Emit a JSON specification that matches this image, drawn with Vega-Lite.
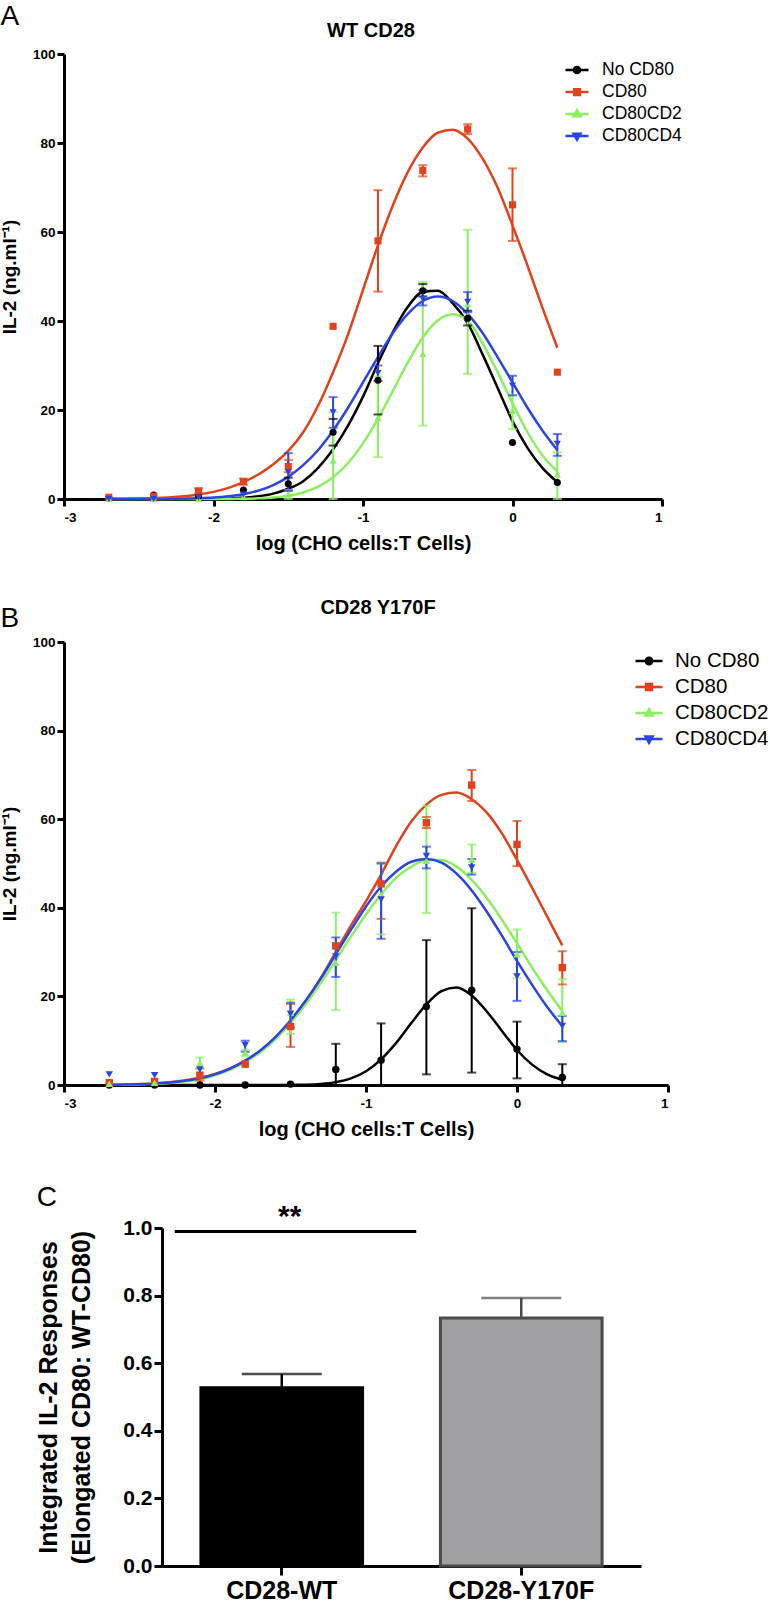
{
"$schema": "https://vega.github.io/schema/vega-lite/v6.json",
"padding": {"left": 0, "top": 3, "right": 0, "bottom": 0},
"background": "white",
"spacing": 44,
"resolve": {"scale": {"color": "independent", "fill": "independent", "stroke": "independent"}, "legend": {"color": "independent", "fill": "independent", "stroke": "independent"}},
"config": {
  "view": {"stroke": null},
  "font": "Liberation Sans",
  "axis": {"grid": false, "domainColor": "#000000", "domainWidth": 3, "tickColor": "#000000", "tickWidth": 3, "tickSize": 7, "labelColor": "#000000", "labelFont": "Liberation Sans", "labelFontWeight": "bold", "titleColor": "#000000", "titleFont": "Liberation Sans", "titleFontWeight": "bold"},
  "title": {"font": "Liberation Sans", "color": "#000000"}
},
"datasets": {
  "curves": [
    {"p":"A","x":-2.7,"No CD80":0,"CD80":0.05,"CD80CD2":0,"CD80CD4":0},
    {"p":"A","x":-2.6,"No CD80":0,"CD80":0.08,"CD80CD2":0,"CD80CD4":0},
    {"p":"A","x":-2.5,"No CD80":0,"CD80":0.13,"CD80CD2":0,"CD80CD4":0.01},
    {"p":"A","x":-2.4,"No CD80":0,"CD80":0.2,"CD80CD2":0,"CD80CD4":0.02},
    {"p":"A","x":-2.3,"No CD80":0,"CD80":0.35,"CD80CD2":0,"CD80CD4":0.035},
    {"p":"A","x":-2.2,"No CD80":0,"CD80":0.6,"CD80CD2":0,"CD80CD4":0.08},
    {"p":"A","x":-2.1,"No CD80":0.01,"CD80":1.0,"CD80CD2":0,"CD80CD4":0.16},
    {"p":"A","x":-2.0,"No CD80":0.03,"CD80":1.6,"CD80CD2":0.01,"CD80CD4":0.31},
    {"p":"A","x":-1.9,"No CD80":0.08,"CD80":2.5,"CD80CD2":0.02,"CD80CD4":0.6},
    {"p":"A","x":-1.8,"No CD80":0.3,"CD80":3.8,"CD80CD2":0.06,"CD80CD4":1.08},
    {"p":"A","x":-1.7,"No CD80":0.6,"CD80":5.5,"CD80CD2":0.15,"CD80CD4":1.88},
    {"p":"A","x":-1.6,"No CD80":1.2,"CD80":7.8,"CD80CD2":0.34,"CD80CD4":3.13},
    {"p":"A","x":-1.5,"No CD80":2.3,"CD80":10.8,"CD80CD2":0.73,"CD80CD4":4.98},
    {"p":"A","x":-1.4,"No CD80":4.0,"CD80":15,"CD80CD2":1.47,"CD80CD4":7.6},
    {"p":"A","x":-1.3,"No CD80":7.0,"CD80":21,"CD80CD2":2.78,"CD80CD4":11.0},
    {"p":"A","x":-1.2,"No CD80":11.2,"CD80":28.5,"CD80CD2":4.9,"CD80CD4":15.4},
    {"p":"A","x":-1.1,"No CD80":16.5,"CD80":37,"CD80CD2":8.1,"CD80CD4":20.5},
    {"p":"A","x":-1.0,"No CD80":23,"CD80":47,"CD80CD2":12.5,"CD80CD4":26.2},
    {"p":"A","x":-0.9,"No CD80":30.5,"CD80":57,"CD80CD2":18.0,"CD80CD4":31.9},
    {"p":"A","x":-0.8,"No CD80":37.5,"CD80":66,"CD80CD2":24.3,"CD80CD4":37.3},
    {"p":"A","x":-0.7,"No CD80":43.2,"CD80":73.5,"CD80CD2":30.7,"CD80CD4":41.6},
    {"p":"A","x":-0.6,"No CD80":46.5,"CD80":79,"CD80CD2":36.3,"CD80CD4":44.5},
    {"p":"A","x":-0.5,"No CD80":46.8,"CD80":82.3,"CD80CD2":40.1,"CD80CD4":45.5},
    {"p":"A","x":-0.4,"No CD80":44,"CD80":83,"CD80CD2":41.5,"CD80CD4":44.5},
    {"p":"A","x":-0.3,"No CD80":39.5,"CD80":81,"CD80CD2":40.1,"CD80CD4":41.6},
    {"p":"A","x":-0.2,"No CD80":32.5,"CD80":76.5,"CD80CD2":35,"CD80CD4":37.3},
    {"p":"A","x":-0.1,"No CD80":25,"CD80":70,"CD80CD2":28.5,"CD80CD4":31.9},
    {"p":"A","x":0.0,"No CD80":17.5,"CD80":61.5,"CD80CD2":21.5,"CD80CD4":26.2},
    {"p":"A","x":0.1,"No CD80":11.5,"CD80":52.5,"CD80CD2":15,"CD80CD4":20.5},
    {"p":"A","x":0.2,"No CD80":7,"CD80":43,"CD80CD2":9.8,"CD80CD4":15.4},
    {"p":"A","x":0.3,"No CD80":3.8,"CD80":34,"CD80CD2":6.2,"CD80CD4":11.0},
    {"p":"B","x":-2.7,"No CD80":0,"CD80":0.07,"CD80CD2":0.04,"CD80CD4":0.05},
    {"p":"B","x":-2.6,"No CD80":0,"CD80":0.13,"CD80CD2":0.08,"CD80CD4":0.09},
    {"p":"B","x":-2.5,"No CD80":0,"CD80":0.22,"CD80CD2":0.14,"CD80CD4":0.17},
    {"p":"B","x":-2.4,"No CD80":0,"CD80":0.38,"CD80CD2":0.26,"CD80CD4":0.3},
    {"p":"B","x":-2.3,"No CD80":0,"CD80":0.63,"CD80CD2":0.45,"CD80CD4":0.55},
    {"p":"B","x":-2.2,"No CD80":0,"CD80":1.02,"CD80CD2":0.76,"CD80CD4":0.95},
    {"p":"B","x":-2.1,"No CD80":0,"CD80":1.62,"CD80CD2":1.24,"CD80CD4":1.5},
    {"p":"B","x":-2.0,"No CD80":0,"CD80":2.49,"CD80CD2":2.2,"CD80CD4":2.4},
    {"p":"B","x":-1.9,"No CD80":0,"CD80":3.73,"CD80CD2":3.4,"CD80CD4":3.7},
    {"p":"B","x":-1.8,"No CD80":0,"CD80":5.44,"CD80CD2":5.2,"CD80CD4":5.5},
    {"p":"B","x":-1.7,"No CD80":0,"CD80":7.72,"CD80CD2":7.4,"CD80CD4":7.8},
    {"p":"B","x":-1.6,"No CD80":0.01,"CD80":10.7,"CD80CD2":10.3,"CD80CD4":10.8},
    {"p":"B","x":-1.5,"No CD80":0.03,"CD80":14.4,"CD80CD2":14,"CD80CD4":14.6},
    {"p":"B","x":-1.4,"No CD80":0.08,"CD80":18.9,"CD80CD2":18.2,"CD80CD4":19},
    {"p":"B","x":-1.3,"No CD80":0.25,"CD80":24.1,"CD80CD2":23,"CD80CD4":24},
    {"p":"B","x":-1.2,"No CD80":0.65,"CD80":30.0,"CD80CD2":28.2,"CD80CD4":29.5},
    {"p":"B","x":-1.1,"No CD80":1.5,"CD80":36,"CD80CD2":33.5,"CD80CD4":35},
    {"p":"B","x":-1.0,"No CD80":3.1,"CD80":41.5,"CD80CD2":38.5,"CD80CD4":40.3},
    {"p":"B","x":-0.9,"No CD80":5.8,"CD80":47.5,"CD80CD2":43,"CD80CD4":44.8},
    {"p":"B","x":-0.8,"No CD80":9.5,"CD80":54,"CD80CD2":46.8,"CD80CD4":48.2},
    {"p":"B","x":-0.7,"No CD80":14.0,"CD80":59.5,"CD80CD2":49.3,"CD80CD4":50.4},
    {"p":"B","x":-0.6,"No CD80":18.2,"CD80":63.3,"CD80CD2":50.8,"CD80CD4":51},
    {"p":"B","x":-0.5,"No CD80":21.2,"CD80":65.5,"CD80CD2":50.8,"CD80CD4":50.2},
    {"p":"B","x":-0.4,"No CD80":22,"CD80":66,"CD80CD2":49.3,"CD80CD4":47.7},
    {"p":"B","x":-0.3,"No CD80":20.2,"CD80":64.5,"CD80CD2":46.3,"CD80CD4":43.9},
    {"p":"B","x":-0.2,"No CD80":16.6,"CD80":61.5,"CD80CD2":42.2,"CD80CD4":39.1},
    {"p":"B","x":-0.1,"No CD80":12.2,"CD80":56.8,"CD80CD2":37.3,"CD80CD4":33.7},
    {"p":"B","x":0.0,"No CD80":7.9,"CD80":50.8,"CD80CD2":32.0,"CD80CD4":28.0},
    {"p":"B","x":0.1,"No CD80":4.6,"CD80":44.5,"CD80CD2":26.5,"CD80CD4":22.6},
    {"p":"B","x":0.2,"No CD80":2.4,"CD80":38,"CD80CD2":21.4,"CD80CD4":17.6},
    {"p":"B","x":0.3,"No CD80":1.2,"CD80":31.5,"CD80CD2":16.7,"CD80CD4":13.3}
  ],
  "pts": [
    {"p":"A","s":"No CD80","x":-2.7,"y":0.2},
    {"p":"A","s":"No CD80","x":-2.4,"y":0.9},
    {"p":"A","s":"No CD80","x":-2.1,"y":0.6},
    {"p":"A","s":"No CD80","x":-1.8,"y":2.0},
    {"p":"A","s":"No CD80","x":-1.5,"y":3.4,"lo":2,"hi":4.8},
    {"p":"A","s":"No CD80","x":-1.2,"y":15.0,"lo":12,"hi":18},
    {"p":"A","s":"No CD80","x":-0.9,"y":26.7,"lo":19,"hi":34.4},
    {"p":"A","s":"No CD80","x":-0.6,"y":46.8,"lo":45.5,"hi":48.3},
    {"p":"A","s":"No CD80","x":-0.3,"y":40.6,"lo":39,"hi":42.3},
    {"p":"A","s":"No CD80","x":0,"y":12.7},
    {"p":"A","s":"No CD80","x":0.3,"y":3.7},
    {"p":"A","s":"CD80","x":-2.7,"y":0.4},
    {"p":"A","s":"CD80","x":-2.4,"y":0.6},
    {"p":"A","s":"CD80","x":-2.1,"y":1.8,"lo":1.2,"hi":2.4},
    {"p":"A","s":"CD80","x":-1.8,"y":3.9,"lo":3.2,"hi":4.6},
    {"p":"A","s":"CD80","x":-1.5,"y":7.3,"lo":6,"hi":8.8},
    {"p":"A","s":"CD80","x":-1.2,"y":38.8},
    {"p":"A","s":"CD80","x":-0.9,"y":58.0,"lo":46.6,"hi":69.4},
    {"p":"A","s":"CD80","x":-0.6,"y":73.8,"lo":72.5,"hi":75},
    {"p":"A","s":"CD80","x":-0.3,"y":83.1,"lo":82,"hi":84.2},
    {"p":"A","s":"CD80","x":0,"y":66.1,"lo":58,"hi":74.3},
    {"p":"A","s":"CD80","x":0.3,"y":28.5},
    {"p":"A","s":"CD80CD2","x":-2.7,"y":0},
    {"p":"A","s":"CD80CD2","x":-2.4,"y":0},
    {"p":"A","s":"CD80CD2","x":-2.1,"y":0},
    {"p":"A","s":"CD80CD2","x":-1.8,"y":0.4},
    {"p":"A","s":"CD80CD2","x":-1.5,"y":1.0,"lo":0,"hi":2},
    {"p":"A","s":"CD80CD2","x":-1.2,"y":8.6,"lo":0,"hi":19.5},
    {"p":"A","s":"CD80CD2","x":-0.9,"y":18.2,"lo":9.4,"hi":27.5},
    {"p":"A","s":"CD80CD2","x":-0.6,"y":32.6,"lo":16.5,"hi":48.8},
    {"p":"A","s":"CD80CD2","x":-0.3,"y":43.8,"lo":28.1,"hi":60.5},
    {"p":"A","s":"CD80CD2","x":0,"y":19.8,"lo":15.7,"hi":23.4},
    {"p":"A","s":"CD80CD2","x":0.3,"y":5.5,"lo":0,"hi":10.5},
    {"p":"A","s":"CD80CD4","x":-2.7,"y":0},
    {"p":"A","s":"CD80CD4","x":-2.4,"y":0},
    {"p":"A","s":"CD80CD4","x":-2.1,"y":0.3},
    {"p":"A","s":"CD80CD4","x":-1.8,"y":1.0},
    {"p":"A","s":"CD80CD4","x":-1.5,"y":6,"lo":1.8,"hi":10.3},
    {"p":"A","s":"CD80CD4","x":-1.2,"y":19.5,"lo":16,"hi":22.9},
    {"p":"A","s":"CD80CD4","x":-0.9,"y":28.3,"lo":26.5,"hi":30},
    {"p":"A","s":"CD80CD4","x":-0.6,"y":45,"lo":43.5,"hi":47},
    {"p":"A","s":"CD80CD4","x":-0.3,"y":44.3,"lo":42,"hi":46.5},
    {"p":"A","s":"CD80CD4","x":0,"y":25.5,"lo":23.3,"hi":27.7},
    {"p":"A","s":"CD80CD4","x":0.3,"y":12.4,"lo":9.7,"hi":14.6},
    {"p":"B","s":"No CD80","x":-2.7,"y":0},
    {"p":"B","s":"No CD80","x":-2.4,"y":0},
    {"p":"B","s":"No CD80","x":-2.1,"y":0},
    {"p":"B","s":"No CD80","x":-1.8,"y":0},
    {"p":"B","s":"No CD80","x":-1.5,"y":0.2},
    {"p":"B","s":"No CD80","x":-1.2,"y":3.5,"lo":0,"hi":9.3},
    {"p":"B","s":"No CD80","x":-0.9,"y":5.6,"lo":0,"hi":13.9},
    {"p":"B","s":"No CD80","x":-0.6,"y":17.7,"lo":2.4,"hi":32.7},
    {"p":"B","s":"No CD80","x":-0.3,"y":21.4,"lo":2.8,"hi":39.9},
    {"p":"B","s":"No CD80","x":0,"y":8.1,"lo":1.5,"hi":14.3},
    {"p":"B","s":"No CD80","x":0.3,"y":1.7,"lo":0,"hi":4.7},
    {"p":"B","s":"CD80","x":-2.7,"y":0.5},
    {"p":"B","s":"CD80","x":-2.4,"y":0.8},
    {"p":"B","s":"CD80","x":-2.1,"y":2.2,"lo":1.0,"hi":3.7},
    {"p":"B","s":"CD80","x":-1.8,"y":4.7},
    {"p":"B","s":"CD80","x":-1.5,"y":13.2,"lo":8.6,"hi":18.3},
    {"p":"B","s":"CD80","x":-1.2,"y":31.4},
    {"p":"B","s":"CD80","x":-0.9,"y":45.4,"lo":37.5,"hi":50.2},
    {"p":"B","s":"CD80","x":-0.6,"y":59.2,"lo":58,"hi":60.5},
    {"p":"B","s":"CD80","x":-0.3,"y":67.7,"lo":64.1,"hi":71.1},
    {"p":"B","s":"CD80","x":0,"y":54.3,"lo":49.4,"hi":59.6},
    {"p":"B","s":"CD80","x":0.3,"y":26.5,"lo":22.7,"hi":30.2},
    {"p":"B","s":"CD80CD2","x":-2.7,"y":0.3},
    {"p":"B","s":"CD80CD2","x":-2.4,"y":0.5},
    {"p":"B","s":"CD80CD2","x":-2.1,"y":5.0,"lo":3.8,"hi":6.2},
    {"p":"B","s":"CD80CD2","x":-1.8,"y":7.3,"lo":6.5,"hi":8},
    {"p":"B","s":"CD80CD2","x":-1.5,"y":16.3,"lo":11.5,"hi":19.3},
    {"p":"B","s":"CD80CD2","x":-1.2,"y":27.6,"lo":16.9,"hi":38.9},
    {"p":"B","s":"CD80CD2","x":-0.9,"y":43,"lo":34,"hi":50},
    {"p":"B","s":"CD80CD2","x":-0.6,"y":50.6,"lo":38.8,"hi":63},
    {"p":"B","s":"CD80CD2","x":-0.3,"y":50.9,"lo":47.9,"hi":54.3},
    {"p":"B","s":"CD80CD2","x":0,"y":29.5,"lo":24.1,"hi":35.1},
    {"p":"B","s":"CD80CD2","x":0.3,"y":16.3,"lo":9.7,"hi":23.9},
    {"p":"B","s":"CD80CD4","x":-2.7,"y":2.4},
    {"p":"B","s":"CD80CD4","x":-2.4,"y":2.2},
    {"p":"B","s":"CD80CD4","x":-2.1,"y":3.5},
    {"p":"B","s":"CD80CD4","x":-1.8,"y":9.0,"lo":7.5,"hi":10},
    {"p":"B","s":"CD80CD4","x":-1.5,"y":16.1,"lo":13,"hi":18.6},
    {"p":"B","s":"CD80CD4","x":-1.2,"y":29,"lo":24.4,"hi":33.3},
    {"p":"B","s":"CD80CD4","x":-0.9,"y":41.9,"lo":33,"hi":50},
    {"p":"B","s":"CD80CD4","x":-0.6,"y":51.7,"lo":48.9,"hi":53.8},
    {"p":"B","s":"CD80CD4","x":-0.3,"y":49.1,"lo":47.5,"hi":51},
    {"p":"B","s":"CD80CD4","x":0,"y":24.5,"lo":19,"hi":30},
    {"p":"B","s":"CD80CD4","x":0.3,"y":13.3,"lo":9.9,"hi":15.6}
  ],
  "bars": [
    {"group":"CD28-WT","value":0.527,"hi":0.568},
    {"group":"CD28-Y170F","value":0.734,"hi":0.793}
  ],
  "sig": [
    {"from":"CD28-WT","to":"CD28-Y170F","y":0.99,"label":"**"}
  ]
},
"vconcat": [
  {
    "title": {"text": "A", "anchor": "start", "frame": "bounds", "fontSize": 28, "fontWeight": "normal", "offset": -10},
    "resolve": {"scale": {"color": "independent"}, "legend": {"color": "independent"}},
    "vconcat": [
      {
        "width": 598, "height": 445,
        "title": {"text": "WT CD28", "fontSize": 20, "fontWeight": "bold", "anchor": "middle", "frame": "group", "offset": 6, "dx": 8},
        "encoding": {
          "x": {"field": "x", "type": "quantitative", "scale": {"domain": [-3, 1], "nice": false, "zero": false}, "axis": {"values": [-3, -2, -1, 0, 1], "labelExpr": "'' + datum.value", "labelFontSize": 13.5, "labelPadding": 4, "title": "log (CHO cells:T Cells)", "titleFontSize": 20, "titlePadding": 10}},
          "y": {"field": "y", "type": "quantitative", "scale": {"domain": [0, 100], "nice": false}, "axis": {"values": [0, 20, 40, 60, 80, 100], "labelFontSize": 13.5, "labelPadding": 2, "title": "IL-2 (ng.ml⁻¹)", "titleFontSize": 19, "titlePadding": 13}}
        },
        "layer": [
          {
            "data": {"name": "curves"},
            "transform": [{"filter": "datum.p === 'A'"}, {"fold": ["No CD80", "CD80", "CD80CD2", "CD80CD4"], "as": ["s", "y"]}],
            "mark": {"type": "line", "strokeWidth": 2.5, "interpolate": "monotone"},
            "encoding": {
              "color": {"field": "s", "type": "nominal", "scale": {"domain": ["No CD80", "CD80", "CD80CD2", "CD80CD4"], "range": ["#000000", "#E2411C", "#8BF060", "#2B44E4"]},
                "legend": {"orient": "none", "legendX": 500, "legendY": 3, "title": null, "padding": 0, "rowPadding": 0, "labelFont": "Liberation Sans", "labelFontSize": 17.5, "labelColor": "#000000", "labelOffset": 12, "symbolSize": 529, "symbolStrokeWidth": 2.5,
                  "encode": {"symbols": {"update": {
                    "shape": {"signal": "datum.value === 'No CD80' ? 'M-1,0H1M-0.27,0A0.27,0.27,0,1,0,0.27,0A0.27,0.27,0,1,0,-0.27,0Z' : datum.value === 'CD80' ? 'M-1,0H1M-0.25,-0.25H0.25V0.25H-0.25Z' : datum.value === 'CD80CD2' ? 'M-1,0H1M0,-0.32L0.3,0.2H-0.3Z' : 'M-1,0H1M0,0.32L0.3,-0.2H-0.3Z'"},
                    "fill": {"signal": "datum.value === 'No CD80' ? '#000000' : datum.value === 'CD80' ? '#E2411C' : datum.value === 'CD80CD2' ? '#8BF060' : '#2B44E4'"},
                    "stroke": {"signal": "datum.value === 'No CD80' ? '#000000' : datum.value === 'CD80' ? '#E2411C' : datum.value === 'CD80CD2' ? '#8BF060' : '#2B44E4'"},
                    "strokeWidth": {"value": 2.5},
                    "opacity": {"value": 1}
                  }}}}
              }
            }
          },
          {
            "data": {"name": "pts"},
            "transform": [{"filter": "datum.p === 'A' && datum.lo != null"}],
            "mark": {"type": "rule", "strokeWidth": 2},
            "encoding": {
              "y": {"field": "lo", "type": "quantitative", "scale": {"domain": [0, 100], "nice": false}, "axis": {"values": [0, 20, 40, 60, 80, 100], "labelFontSize": 13.5, "labelPadding": 2, "title": "IL-2 (ng.ml⁻¹)", "titleFontSize": 19, "titlePadding": 13}},
              "y2": {"field": "hi"},
              "color": {"field": "s", "type": "nominal"}
            }
          },
          {
            "data": {"name": "pts"},
            "transform": [{"filter": "datum.p === 'A' && datum.lo != null"}, {"fold": ["lo", "hi"], "as": ["k", "y"]}],
            "mark": {"type": "tick", "orient": "horizontal", "size": 9, "thickness": 2},
            "encoding": {"color": {"field": "s", "type": "nominal"}}
          },
          {"data": {"name": "pts"}, "transform": [{"filter": "datum.p === 'A' && datum.s === 'No CD80'"}], "mark": {"type": "point", "shape": "circle", "filled": true, "opacity": 1, "size": 50, "color": "#000000"}},
          {"data": {"name": "pts"}, "transform": [{"filter": "datum.p === 'A' && datum.s === 'CD80'"}], "mark": {"type": "point", "shape": "square", "filled": true, "opacity": 1, "size": 50, "color": "#E2411C"}},
          {"data": {"name": "pts"}, "transform": [{"filter": "datum.p === 'A' && datum.s === 'CD80CD2'"}], "mark": {"type": "point", "shape": "triangle-up", "filled": true, "opacity": 1, "size": 50, "color": "#8BF060"}},
          {"data": {"name": "pts"}, "transform": [{"filter": "datum.p === 'A' && datum.s === 'CD80CD4'"}], "mark": {"type": "point", "shape": "triangle-down", "filled": true, "opacity": 1, "size": 50, "color": "#2B44E4"}}
        ]
      }
    ]
  },
  {
    "title": {"text": "B", "anchor": "start", "frame": "bounds", "fontSize": 28, "fontWeight": "normal", "offset": -35},
    "resolve": {"scale": {"color": "independent"}, "legend": {"color": "independent"}},
    "vconcat": [
      {
        "width": 604, "height": 443,
        "title": {"text": "CD28 Y170F", "fontSize": 20, "fontWeight": "bold", "anchor": "middle", "frame": "group", "offset": 17, "dx": 12},
        "encoding": {
          "x": {"field": "x", "type": "quantitative", "scale": {"domain": [-3, 1], "nice": false, "zero": false}, "axis": {"values": [-3, -2, -1, 0, 1], "labelExpr": "'' + datum.value", "labelFontSize": 13.5, "labelPadding": 4, "title": "log (CHO cells:T Cells)", "titleFontSize": 20, "titlePadding": 10}},
          "y": {"field": "y", "type": "quantitative", "scale": {"domain": [0, 100], "nice": false}, "axis": {"values": [0, 20, 40, 60, 80, 100], "labelFontSize": 13.5, "labelPadding": 2, "title": "IL-2 (ng.ml⁻¹)", "titleFontSize": 19, "titlePadding": 13}}
        },
        "layer": [
          {
            "data": {"name": "curves"},
            "transform": [{"filter": "datum.p === 'B'"}, {"fold": ["No CD80", "CD80", "CD80CD2", "CD80CD4"], "as": ["s", "y"]}],
            "mark": {"type": "line", "strokeWidth": 2.5, "interpolate": "monotone"},
            "encoding": {
              "color": {"field": "s", "type": "nominal", "scale": {"domain": ["No CD80", "CD80", "CD80CD2", "CD80CD4"], "range": ["#000000", "#E2411C", "#8BF060", "#2B44E4"]},
                "legend": {"orient": "none", "legendX": 570, "legendY": 4, "title": null, "padding": 0, "rowPadding": 0, "labelFont": "Liberation Sans", "labelFontSize": 20.5, "labelColor": "#000000", "labelOffset": 11, "symbolSize": 729, "symbolStrokeWidth": 2.5,
                  "encode": {"symbols": {"update": {
                    "shape": {"signal": "datum.value === 'No CD80' ? 'M-1,0H1M-0.24,0A0.24,0.24,0,1,0,0.24,0A0.24,0.24,0,1,0,-0.24,0Z' : datum.value === 'CD80' ? 'M-1,0H1M-0.22,-0.22H0.22V0.22H-0.22Z' : datum.value === 'CD80CD2' ? 'M-1,0H1M0,-0.28L0.26,0.18H-0.26Z' : 'M-1,0H1M0,0.28L0.26,-0.18H-0.26Z'"},
                    "fill": {"signal": "datum.value === 'No CD80' ? '#000000' : datum.value === 'CD80' ? '#E2411C' : datum.value === 'CD80CD2' ? '#8BF060' : '#2B44E4'"},
                    "stroke": {"signal": "datum.value === 'No CD80' ? '#000000' : datum.value === 'CD80' ? '#E2411C' : datum.value === 'CD80CD2' ? '#8BF060' : '#2B44E4'"},
                    "strokeWidth": {"value": 2.5},
                    "opacity": {"value": 1}
                  }}}}
              }
            }
          },
          {
            "data": {"name": "pts"},
            "transform": [{"filter": "datum.p === 'B' && datum.lo != null"}],
            "mark": {"type": "rule", "strokeWidth": 2},
            "encoding": {
              "y": {"field": "lo", "type": "quantitative", "scale": {"domain": [0, 100], "nice": false}, "axis": {"values": [0, 20, 40, 60, 80, 100], "labelFontSize": 13.5, "labelPadding": 2, "title": "IL-2 (ng.ml⁻¹)", "titleFontSize": 19, "titlePadding": 13}},
              "y2": {"field": "hi"},
              "color": {"field": "s", "type": "nominal"}
            }
          },
          {
            "data": {"name": "pts"},
            "transform": [{"filter": "datum.p === 'B' && datum.lo != null"}, {"fold": ["lo", "hi"], "as": ["k", "y"]}],
            "mark": {"type": "tick", "orient": "horizontal", "size": 9, "thickness": 2},
            "encoding": {"color": {"field": "s", "type": "nominal"}}
          },
          {"data": {"name": "pts"}, "transform": [{"filter": "datum.p === 'B' && datum.s === 'No CD80'"}], "mark": {"type": "point", "shape": "circle", "filled": true, "opacity": 1, "size": 55, "color": "#000000"}},
          {"data": {"name": "pts"}, "transform": [{"filter": "datum.p === 'B' && datum.s === 'CD80'"}], "mark": {"type": "point", "shape": "square", "filled": true, "opacity": 1, "size": 55, "color": "#E2411C"}},
          {"data": {"name": "pts"}, "transform": [{"filter": "datum.p === 'B' && datum.s === 'CD80CD2'"}], "mark": {"type": "point", "shape": "triangle-up", "filled": true, "opacity": 1, "size": 55, "color": "#8BF060"}},
          {"data": {"name": "pts"}, "transform": [{"filter": "datum.p === 'B' && datum.s === 'CD80CD4'"}], "mark": {"type": "point", "shape": "triangle-down", "filled": true, "opacity": 1, "size": 55, "color": "#2B44E4"}}
        ]
      }
    ]
  },
  {
    "title": {"text": "C", "anchor": "start", "frame": "bounds", "fontSize": 28, "fontWeight": "normal", "offset": -10},
    "resolve": {"scale": {"color": "independent", "fill": "independent", "stroke": "independent"}},
    "vconcat": [
      {
        "width": 577, "height": 338,
        "layer": [
          {
            "data": {"name": "bars"},
            "mark": {"type": "bar", "strokeWidth": 3},
            "encoding": {
              "x": {"field": "group", "type": "nominal", "sort": null, "scale": {"domain": ["CD28-WT", "CD28-Y170F"], "range": [98, 577], "paddingInner": 0.325, "paddingOuter": 0.1625}, "axis": {"title": null, "labelAngle": 0, "labelFontSize": 25, "labelPadding": 3, "tickSize": 9}},
              "y": {"field": "value", "type": "quantitative", "scale": {"domain": [0, 1], "nice": false}, "axis": {"offset": -98, "values": [0, 0.2, 0.4, 0.6, 0.8, 1], "format": ".1f", "labelFontSize": 21, "labelPadding": 2, "tickSize": 8, "title": ["Integrated IL-2 Responses", "(Elongated CD80: WT-CD80)"], "titleFontSize": 25, "titleLineHeight": 33, "titlePadding": 28}},
              "fill": {"field": "group", "type": "nominal", "scale": {"domain": ["CD28-WT", "CD28-Y170F"], "range": ["#000000", "#A0A0A2"]}, "legend": null},
              "stroke": {"field": "group", "type": "nominal", "scale": {"domain": ["CD28-WT", "CD28-Y170F"], "range": ["#000000", "#4A4A4A"]}, "legend": null}
            }
          },
          {
            "data": {"name": "bars"},
            "mark": {"type": "rule", "strokeWidth": 2.5},
            "encoding": {
              "x": {"field": "group", "type": "nominal", "sort": null},
              "y": {"field": "value", "type": "quantitative"},
              "y2": {"field": "hi"},
              "stroke": {"field": "group", "type": "nominal", "legend": null}
            }
          },
          {
            "data": {"name": "bars"},
            "mark": {"type": "tick", "orient": "horizontal", "size": 80, "thickness": 2.5},
            "encoding": {
              "x": {"field": "group", "type": "nominal", "sort": null},
              "y": {"field": "hi", "type": "quantitative"},
              "color": {"field": "group", "type": "nominal", "scale": {"domain": ["CD28-WT", "CD28-Y170F"], "range": ["#000000", "#4A4A4A"]}, "legend": null}
            }
          },
          {
            "data": {"name": "sig"},
            "mark": {"type": "rule", "strokeWidth": 3, "color": "#000000", "xOffset": -107, "x2Offset": -105},
            "encoding": {
              "x": {"field": "from", "type": "nominal"},
              "x2": {"field": "to"},
              "y": {"field": "y", "type": "quantitative"}
            }
          },
          {
            "data": {"name": "sig"},
            "mark": {"type": "text", "fontSize": 30, "fontWeight": "bold", "color": "#000000", "baseline": "alphabetic", "dx": 8, "dy": -5},
            "encoding": {
              "x": {"field": "from", "type": "nominal"},
              "y": {"field": "y", "type": "quantitative"},
              "text": {"field": "label"}
            }
          }
        ]
      }
    ]
  }
]
}
